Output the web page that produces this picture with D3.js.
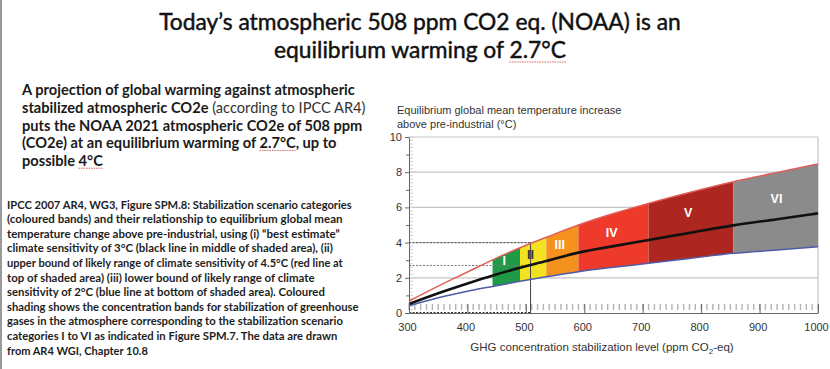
<!DOCTYPE html>
<html><head><meta charset="utf-8">
<script src="https://cdn.jsdelivr.net/npm/d3@7"></script>
<style>
html,body{margin:0;padding:0;background:#fff;}
svg{display:block;}
</style></head>
<body>
<svg id="c" width="830" height="369"></svg>
<script>
// ---------- data ----------
const ppm    = [300, 350, 400, 445, 490, 535, 590, 650, 710, 780, 855, 930, 1000];
const upperT = [0.68, 1.53, 2.33, 3.05, 3.71, 4.30, 5.00, 5.65, 6.23, 6.85, 7.46, 7.98, 8.47];
const bestT  = [0.51, 1.12, 1.68, 2.15, 2.57, 2.95, 3.43, 3.80, 4.15, 4.55, 4.98, 5.33, 5.66];
const lowerT = [0.41, 0.87, 1.24, 1.52, 1.80, 2.06, 2.35, 2.60, 2.82, 3.10, 3.39, 3.58, 3.77];
const categories = ["I", "II", "III", "IV", "V", "VI"];
const bandStart  = [443, 490, 535, 590, 710, 855];
const bandEnd    = [490, 535, 590, 710, 855, 1000];
const bandColors = ["#1f9a46", "#f3e21f", "#f5921e", "#ee3a2b", "#ad261f", "#8b8b8b"];
const labelPpm   = [463, 508, 558, 647, 778, 929];
const labelT     = [2.95, 3.3, 3.86, 4.56, 5.66, 6.5];
const labelColors= ["#fff", "#333", "#fff", "#fff", "#fff", "#fff"];
const xTicks = [300, 400, 500, 600, 700, 800, 900, 1000];
const yTicks = [0, 2, 4, 6, 8, 10];
const noaaPpm = 508, noaaT = 2.7, maxT = 4;

const titleLines = ["Today\u2019s atmospheric 508 ppm CO2 eq. (NOAA) is an", "equilibrium warming of 2.7\u00B0C"];
const introLines = [
  [["A projection of global warming against atmospheric", 700]],
  [["stabilized atmospheric CO2e", 700], [" (according to IPCC AR4)", 400]],
  [["puts the NOAA 2021 atmospheric CO2e of 508 ppm", 700]],
  [["(CO2e) at an equilibrium warming of 2.7\u00B0C, up to", 700]],
  [["possible 4\u00B0C", 700]]
];
const noteLines = [
  "IPCC 2007 AR4, WG3, Figure SPM.8:  Stabilization scenario categories",
  "(coloured bands) and their relationship to equilibrium global mean",
  "temperature change above pre-industrial, using (i) \u201Cbest estimate\u201D",
  "climate sensitivity of 3\u00B0C (black line in middle of shaded area),  (ii)",
  "upper bound of likely range of climate sensitivity of 4.5\u00B0C (red line at",
  "top of shaded area) (iii) lower bound of likely range of climate",
  "sensitivity of 2\u00B0C (blue line at bottom of shaded area). Coloured",
  "shading shows the concentration bands for stabilization of greenhouse",
  "gases in the atmosphere corresponding to the stabilization scenario",
  "categories I to VI as indicated in Figure SPM.7. The data are drawn",
  "from AR4 WGI, Chapter 10.8"
];
const noteWidths = [345, 336, 333, 326, 336, 308, 318, 352, 336, 331, 141];

// ---------- setup ----------
const svg = d3.select("#c");
const pts = ppm.map((p, i) => ({p, u: upperT[i], b: bestT[i], l: lowerT[i]}));
const x = d3.scaleLinear().domain([300, 1000]).range([409, 818]);
const y = d3.scaleLinear().domain([0, 10]).range([313, 137]);
const plotFont = "'Liberation Sans', Arial, sans-serif";
const textFont = "Lato, 'Open Sans', sans-serif";

// left border line
svg.append("rect").attr("x", 0).attr("y", 0).attr("width", 2).attr("height", 369).attr("fill", "#9a9a9a");

function fitSize(sel, target, start) {
  let fs = start;
  sel.style("font-size", fs + "px");
  const w = sel.node().getComputedTextLength();
  fs = fs * target / w;
  sel.style("font-size", fs + "px");
  return fs;
}
function squiggle(textSel, substr) {
  const node = textSel.node();
  const full = node.textContent;
  const idx = full.indexOf(substr);
  if (idx < 0) return;
  const start = node.getStartPositionOfChar(idx);
  const len = node.getSubStringLength(idx, substr.length);
  const bb = node.getBBox();
  svg.append("line").attr("x1", start.x).attr("x2", start.x + len)
    .attr("y1", bb.y + bb.height - 1).attr("y2", bb.y + bb.height - 1)
    .attr("stroke", "#d96060").attr("stroke-width", 1).attr("stroke-dasharray", "1.5,1");
}

// ---------- title ----------
const t1 = svg.append("text").attr("x", 420).attr("y", 30).attr("text-anchor", "middle")
  .style("font-family", textFont).style("fill", "#111").style("stroke", "#111").style("stroke-width", 0.45)
  .text(titleLines[0]);
const tfs = fitSize(t1, 522, 22);
const t2 = svg.append("text").attr("x", 420).attr("y", 58).attr("text-anchor", "middle")
  .style("font-family", textFont).style("font-size", tfs + "px").style("fill", "#111")
  .style("stroke", "#111").style("stroke-width", 0.45).text(titleLines[1]);
squiggle(t2, "2.7\u00B0C");

// ---------- intro paragraph ----------
let introFs = null;
introLines.forEach((segs, i) => {
  const t = svg.append("text").attr("x", 22).attr("y", 95 + i * 17.8)
    .style("font-family", textFont).style("fill", "#1a1a1a");
  segs.forEach(s => t.append("tspan").style("font-weight", s[1]).style("fill", s[1] === 400 ? "#333" : "#1a1a1a").text(s[0]));
  if (i === 0) introFs = fitSize(t, 333, 14);
  else t.style("font-size", introFs + "px");
  if (i === 3) squiggle(t, "2.7\u00B0C");
  if (i === 4) squiggle(t, "4\u00B0C");
});

// ---------- note paragraph ----------
noteLines.forEach((line, i) => {
  const t = svg.append("text").attr("x", 7).attr("y", 208.5 + i * 14.6)
    .style("font-family", textFont).style("font-weight", 700).style("fill", "#1e1e1e")
    .text(line);
  fitSize(t, noteWidths[i], 10.5);
});

// ---------- chart ----------
const g = svg.append("g");

// gridlines
g.selectAll(".grid").data(yTicks.filter(v => v > 0)).join("line")
  .attr("x1", x(300)).attr("x2", x(1000)).attr("y1", d => y(d)).attr("y2", d => y(d))
  .attr("stroke", "#c4c4c4").attr("stroke-width", 1.2);
g.append("line").attr("x1", x(1000)).attr("x2", x(1000)).attr("y1", y(0)).attr("y2", y(10))
  .attr("stroke", "#c4c4c4").attr("stroke-width", 1.2);

// light strip along y axis
const fine = d3.range(0, 10.01, 0.2);
g.selectAll(".ystrip").data(fine).join("line")
  .attr("x1", x(300)).attr("x2", x(300) + 4).attr("y1", d => y(d)).attr("y2", d => y(d))
  .attr("stroke", "#d2d2d2").attr("stroke-width", 1);

// minor tick row at bottom
const minorX = d3.range(300, 1001, 10);
g.selectAll(".xminor").data(minorX).join("line")
  .attr("x1", d => x(d)).attr("x2", d => x(d)).attr("y1", y(0) - 9).attr("y2", y(0) - 3)
  .attr("stroke", "#b4b4b4").attr("stroke-width", 1.4);

// bands
const area = d3.area().x(d => x(d.p)).y0(d => y(d.l)).y1(d => y(d.u)).curve(d3.curveMonotoneX);
const defs = svg.append("defs");
categories.forEach((c, i) => {
  defs.append("clipPath").attr("id", "band" + i).append("rect")
    .attr("x", x(bandStart[i])).attr("width", x(bandEnd[i]) - x(bandStart[i]))
    .attr("y", y(10)).attr("height", y(0) - y(10));
  g.append("path").datum(pts).attr("d", area).attr("fill", bandColors[i])
    .attr("clip-path", `url(#band${i})`);
});

// reference lines for NOAA value
g.append("line").attr("x1", x(300)).attr("x2", x(noaaPpm)).attr("y1", y(maxT)).attr("y2", y(maxT))
  .attr("stroke", "#555").attr("stroke-width", 1).attr("stroke-dasharray", "2,1.5");
g.append("line").attr("x1", x(300)).attr("x2", x(noaaPpm)).attr("y1", y(noaaT)).attr("y2", y(noaaT))
  .attr("stroke", "#777").attr("stroke-width", 1).attr("stroke-dasharray", "2,1.5");
g.append("line").attr("x1", x(300)).attr("x2", x(noaaPpm)).attr("y1", y(0) - 0.5).attr("y2", y(0) - 0.5)
  .attr("stroke", "#333").attr("stroke-width", 1).attr("stroke-dasharray", "2,1.5");
g.append("line").attr("x1", x(noaaPpm)).attr("x2", x(noaaPpm)).attr("y1", y(0)).attr("y2", y(maxT))
  .attr("stroke", "#444").attr("stroke-width", 1);

// curves
const line = key => d3.line().x(d => x(d.p)).y(d => y(d[key])).curve(d3.curveMonotoneX);
g.append("path").datum(pts).attr("d", line("l")).attr("fill", "none").attr("stroke", "#4c5ca8").attr("stroke-width", 1.5);
g.append("path").datum(pts).attr("d", line("u")).attr("fill", "none").attr("stroke", "#de5f58").attr("stroke-width", 1.5);
g.append("path").datum(pts).attr("d", line("b")).attr("fill", "none").attr("stroke", "#111").attr("stroke-width", 2.6);

// band labels
g.selectAll(".blab").data(categories).join("text")
  .attr("x", (d, i) => x(labelPpm[i])).attr("y", (d, i) => y(labelT[i]))
  .attr("text-anchor", "middle").attr("dominant-baseline", "central")
  .style("font-family", plotFont).style("font-weight", 700).style("font-size", "12.5px")
  .style("fill", (d, i) => labelColors[i]).text(d => d);

// axes
const xAxis = g.append("g").attr("transform", `translate(0,${y(0)})`)
  .call(d3.axisBottom(x).tickValues(xTicks).tickSizeInner(-9).tickSizeOuter(0).tickPadding(12).tickFormat(d3.format("d")));
const yAxis = g.append("g").attr("transform", `translate(${x(300)},0)`)
  .call(d3.axisLeft(y).tickValues(yTicks).tickSize(4).tickSizeOuter(0).tickPadding(3));
g.append("g").attr("transform", `translate(${x(300)},0)`)
  .call(d3.axisLeft(y).tickValues([1, 3, 5, 7, 9]).tickSize(3).tickSizeOuter(0).tickFormat(""))
  .select(".domain").remove();
svg.selectAll(".tick line, .domain").attr("stroke", "#666");
svg.selectAll(".tick text").style("font-family", plotFont).style("font-size", "11px").style("fill", "#333");
xAxis.selectAll(".tick text").attr("dy", "0.32em").attr("y", 14).attr("x", -2);

// axis titles
const yt = svg.append("text").attr("x", 397).style("font-family", plotFont).style("font-size", "11px").style("fill", "#333");
yt.append("tspan").attr("x", 397).attr("y", 114).text("Equilibrium global mean temperature increase");
yt.append("tspan").attr("x", 397).attr("y", 128).text("above pre-industrial (\u00B0C)");
const xt = svg.append("text").attr("x", 602).attr("y", 351).attr("text-anchor", "middle")
  .style("font-family", plotFont).style("font-size", "11.5px").style("fill", "#333");
xt.append("tspan").text("GHG concentration stabilization level (ppm CO");
xt.append("tspan").attr("dy", 3).style("font-size", "8px").text("2");
xt.append("tspan").attr("dy", -3).text("-eq)");
</script>
</body></html>
